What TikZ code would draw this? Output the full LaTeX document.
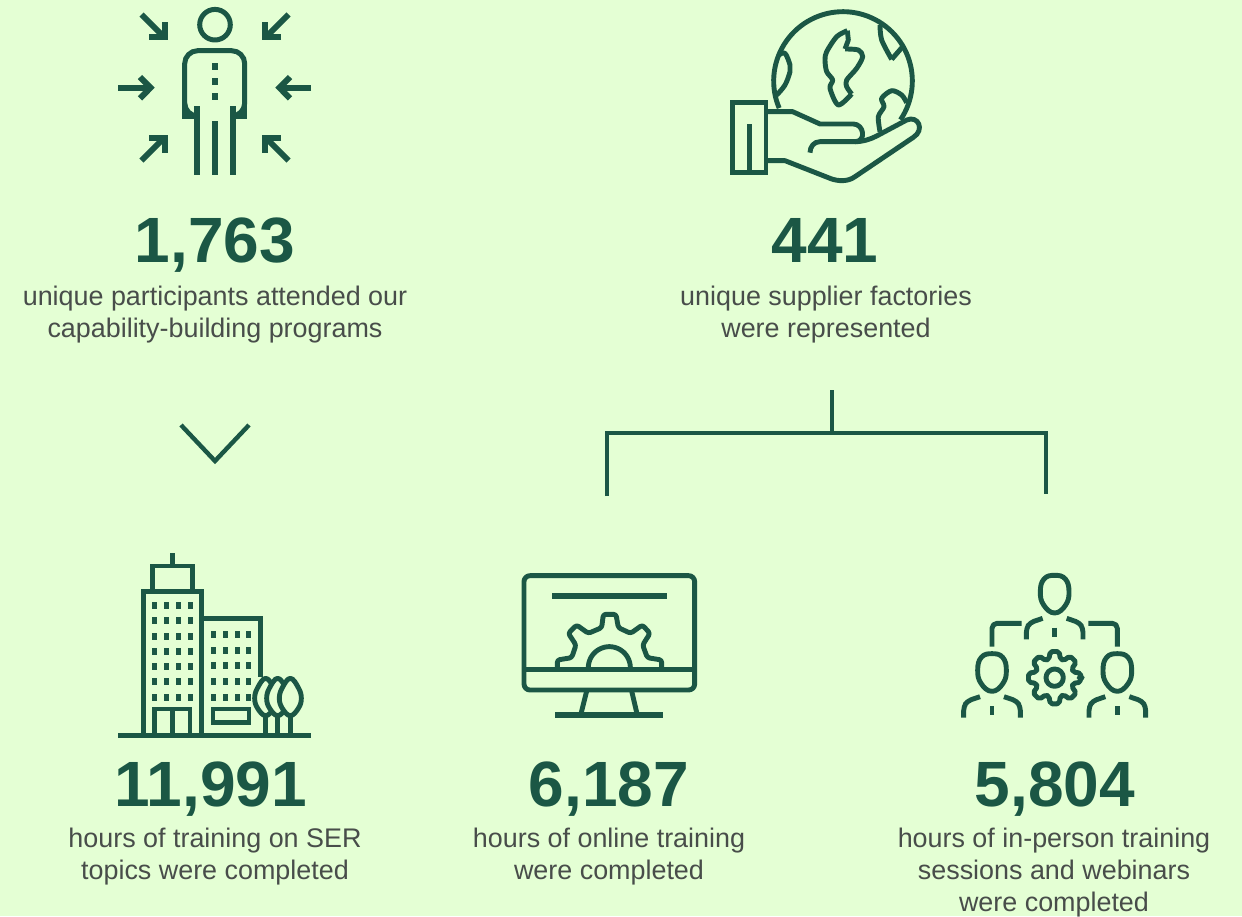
\documentclass[tikz,border=0pt]{standalone}
\usepackage{fontspec}
\setmainfont{Liberation Sans}
\definecolor{bgc}{HTML}{E4FFD4}
\definecolor{gr}{HTML}{1B5745}
\definecolor{tx}{HTML}{484D4A}
\newcommand{\eggshape}[2]{\draw[ic] plot[smooth cycle,tension=.75] coordinates {(#1+0,#2-57)(#1+32,#2-46)(#1+43,#2-8)(#1+33,#2+32)(#1+0,#2+56)(#1-33,#2+32)(#1-43,#2-8)(#1-32,#2-46)};}
\newcommand{\shoulders}[2]{%
\draw[ic,rounded corners=4pt] (#1-85,#2+135)--(#1-85,#2+102)--(#1-74,#2+85)--(#1-36,#2+72);
\draw[ic,rounded corners=4pt] (#1+85,#2+135)--(#1+85,#2+102)--(#1+74,#2+85)--(#1+36,#2+72);
\draw[ic] (#1,#2+100)--(#1,#2+127);}
\newcommand{\leaf}[1]{\draw[ic,fill=bgc] plot[smooth cycle,tension=.7] coordinates {(#1,400)(#1+24,428)(#1+33,460)(#1+24,490)(#1,512)(#1-24,490)(#1-33,460)(#1-24,428)};}
\tikzset{
 x=1pt,y=-1pt,
 ic/.style={draw=gr,line width=4.9pt,line join=round},
 mit/.style={draw=gr,line width=6pt,line join=miter},
 con/.style={draw=gr,line width=4.4pt},
 bl/.style={draw=gr,line width=4.6pt,line join=miter},
 num/.style={text=gr,font=\fontsize{64}{64}\selectfont\bfseries,inner sep=0pt,anchor=base},
 desc/.style={text=tx,font=\fontsize{26.9}{32}\selectfont,inner sep=0pt,anchor=north,align=center},
 sq/.style={fill=gr,draw=none}
}
\newcommand{\fs}{\rule{0pt}{20pt}}
\begin{document}
\begin{tikzpicture}
\useasboundingbox (0,0) rectangle (1242,916);
\fill[bgc] (0,0) rectangle (1242,916);
% person icon
\begin{scope}
\draw[ic,line width=5pt] (215,24.7) circle[radius=15.3];
\draw[ic,line width=5pt,line join=miter,rounded corners=13pt] (197,116)--(184.7,116)--(184.7,50.7)--(244.7,50.7)--(244.7,116)--(233,116);
\draw[ic,line width=5pt,line join=miter] (197,116)--(184.7,116)--(184.7,100);
\draw[ic,line width=5pt,line join=miter] (233,116)--(244.7,116)--(244.7,100);
\foreach \xx/\a/\b in {197/106/175,215/121/175,233/106/175}{\draw[mit,line width=6pt] (\xx,\a)--(\xx,\b);}
\foreach \yy in {63,78,93}{\fill[sq] (212,\yy) rectangle (218,\yy+7);}
% arrows
\draw[mit] (118,87.7)--(151,87.7);
\draw[mit] (140,77)--(150.5,87.7)--(140,98.4);
\draw[mit] (311,87.7)--(279,87.7);
\draw[mit] (290,77)--(279.5,87.7)--(290,98.4);
\draw[mit] (141.5,14.5)--(163,36);
\draw[mit] (149,36.7)--(164.7,36.7)--(164.7,22);
\draw[mit] (288.5,14.5)--(267,36);
\draw[mit] (281,36.7)--(265.3,36.7)--(265.3,22);
\draw[mit] (141.5,160.5)--(163,139);
\draw[mit] (149,137.7)--(164.7,137.7)--(164.7,153);
\draw[mit] (288.5,160.5)--(267,139);
\draw[mit] (281,137.7)--(265.3,137.7)--(265.3,153);
\end{scope}
% globe in hand
\begin{scope}[shift={(710,0)},scale=1/3]
\draw[ic] plot[domain=157:394,samples=70] ({399+208*cos(\x)},{243+208*sin(\x)});
\draw[ic] plot[smooth,tension=.6] coordinates {(207,165)(225,160)(240,195)(240,215)(225,255)(200,285)};
\draw[ic] plot[smooth,tension=.5] coordinates {(412,92)(380,110)(350,155)(345,180)(350,215)(368,240)(360,265)(385,315)(425,282)} ;
\draw[ic] plot[smooth,tension=.5] coordinates {(425,282)(410,260)(410,240)(440,205)(458,170)(445,150)(405,147)};
\draw[ic] (405,147)--(415,120)--(412,92);
\draw[ic] plot[smooth,tension=.5] coordinates {(510,75)(515,120)(545,178)};
\draw[ic] (545,178)--(578,140);
\draw[ic] plot[smooth,tension=.5] coordinates {(510,395)(505,350)(522,320)(515,295)(545,272)(575,285)(590,308)};
\draw[ic,line join=miter,fill=bgc] (68,307) rectangle (168,517);
\draw[ic] (118,372)--(118,517);
\draw[ic] (168,335)--(248,335)--(330,372)--(430,372) .. controls (462,372) and (470,425) .. (435,425)--(330,425) .. controls (312,425) and (300,440) .. (300,458);
\draw[ic] (435,425) .. controls (460,425) and (480,418) .. (500,408)--(590,360) .. controls (625,345) and (645,390) .. (610,412)--(435,530) .. controls (415,545) and (385,545) .. (360,535)--(225,482)--(168,482);
\end{scope}
% building
\begin{scope}[shift={(100,545)},scale=1/3]
\draw[bl] (130,571)--(130,139)--(304,139)--(304,571);
\draw[bl] (157,139)--(157,63)--(277,63)--(277,139);
\draw[mit,line width=5pt] (217,24)--(217,63);
\draw[bl] (304,221)--(482,221)--(482,396);
\draw[bl] (163,571)--(163,492)--(270,492)--(270,571);
\draw[mit,line width=5pt] (217,488)--(217,571);
\draw[bl] (339,492) rectangle (447,532);
\foreach \c in {163,199,235,271}{\foreach \r in {181,226,274,319,365,408,457}{\fill[sq] (\c-8,\r-10.5) rectangle (\c+8,\r+10.5);}}
\foreach \c in {340,376,412,445}{\foreach \r in {268,316,361,409,457}{\fill[sq] (\c-8,\r-10.5) rectangle (\c+8,\r+10.5);}}
\foreach \t in {497,533,571}{\draw[ic,line width=4.4pt] (\t,512)--(\t,571);}
\leaf{497}\leaf{533}\leaf{571}
\draw[mit,line width=5.2pt] (54,571)--(633,571);
\end{scope}
% monitor
\begin{scope}[shift={(510,565)},scale=1/3]
\draw[ic,rounded corners=6pt] (42,32) rectangle (554,375);
\draw[mit,line width=5.4pt] (42,314)--(554,314);
\draw[mit,line width=6pt] (126,93)--(471,93);
\draw[ic] (230,378)--(214,442);
\draw[ic] (365,378)--(380,442);
\draw[mit,line width=6pt] (135,449)--(459,449);
\draw[ic,rounded corners=2.5pt] (142,308)--(142,285)--(185,278)--(198,240)--(175,205)--(200,180)--(235,205)--(275,188)--(280,148)--(318,148)--(325,188)--(362,205)--(397,180)--(420,205)--(398,240)--(412,278)--(455,285)--(455,308);
\draw[ic] plot[domain=180:360,samples=40] ({298+63*cos(\x)},{308+63*sin(\x)});
\end{scope}
% people
\begin{scope}[shift={(950,565)},scale=1/3]
\eggshape{314}{88}
\eggshape{126}{323}
\eggshape{502}{323}
\shoulders{314}{88}
\shoulders{126}{323}
\shoulders{502}{323}
\draw[ic,rounded corners=5pt] (215,175)--(126,175)--(126,245);
\draw[ic,rounded corners=5pt] (415,175)--(502,175)--(502,245);
\draw[ic,rounded corners=2pt] (314+77,338)
 \foreach \a in {0,45,...,315}{ -- ({314+79*cos(\a+10)},{338+79*sin(\a+10)}) -- ({314+58*cos(\a+17)},{338+58*sin(\a+17)}) -- ({314+58*cos(\a+28)},{338+58*sin(\a+28)}) -- ({314+79*cos(\a+35)},{338+79*sin(\a+35)}) -- ({314+79*cos(\a+45)},{338+79*sin(\a+45)})} -- cycle;
\draw[ic] (314,338) circle[radius=26];
\end{scope}
% connectors
\coordinate (cA) at (181,425); \coordinate (cB) at (215,461); \coordinate (cC) at (249,425);
\draw[con,line join=miter] (cA)--(cB)--(cC);
\coordinate (bT) at (832,390); \coordinate (bM) at (832,433);
\coordinate (bL) at (607,433); \coordinate (bR) at (1046,433);
\coordinate (bLe) at (607,496); \coordinate (bRe) at (1046,494);
\draw[con] (bT)--(bM);
\draw[con,line join=miter] (bLe)--(bL)--(bR)--(bRe);
% texts
\node[num] (n1) at (215,262) {1,763};
\node[num] (n2) at (825,262) {441};
\node[num] (n3) at (211,806) {11,991};
\node[num] (n4) at (609,806) {6,187};
\node[num] (n5) at (1055,806) {5,804};
\node[desc] (d1) at (215,285) {\fs unique participants attended our\\capability-building programs};
\node[desc] (d2) at (826,285) {\fs unique supplier factories\\were represented};
\node[desc] (d3) at (215,827) {\fs hours of training on SER\\topics were completed};
\node[desc] (d4) at (609,827) {\fs hours of online training\\were completed};
\node[desc] (d5) at (1054,827) {\fs hours of in-person training\\sessions and webinars\\were completed};
\end{tikzpicture}
\end{document}
